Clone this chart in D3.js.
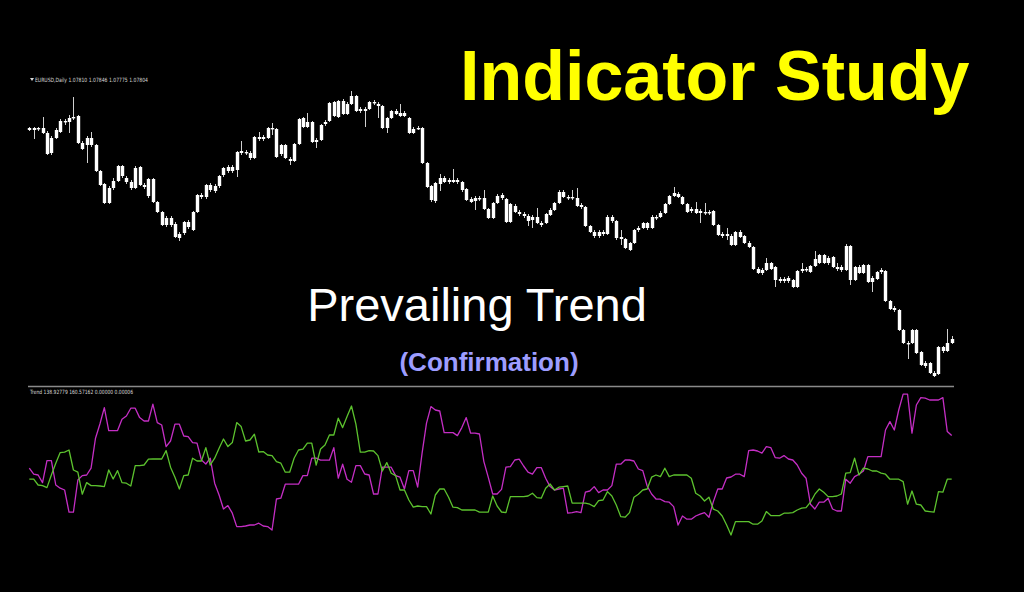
<!DOCTYPE html>
<html>
<head>
<meta charset="utf-8">
<script src="https://cdn.jsdelivr.net/npm/d3@7"></script>
<style>
  html, body { margin: 0; padding: 0; background: #000; }
  svg { display: block; }
</style>
</head>
<body>
<script>
// ---------- DATA (EURUSD Daily, 210 bars) ----------
const open = [
1.1203,1.1207,1.1205,1.1207,1.1197,1.1157,1.1187,1.1199,1.1221,1.1219,
1.1227,1.1231,1.1177,1.1173,1.1187,1.1173,1.1121,1.1095,1.1057,1.1087,
1.1101,1.1131,1.1107,1.1099,1.1087,1.1129,1.1093,1.1071,1.1105,1.1059,
1.1039,1.1013,1.1027,1.1015,1.0987,1.0997,1.1019,1.1003,1.1039,1.1073,
1.1069,1.1093,1.1081,1.1091,1.1113,1.1121,1.1129,1.1123,1.1157,1.1159,
1.1157,1.1147,1.1189,1.1185,1.1187,1.1207,1.1205,1.1155,1.1173,1.1145,
1.1141,1.1175,1.1227,1.1209,1.1219,1.1179,1.1183,1.1215,1.1221,1.1259,
1.1229,1.1261,1.1235,1.1255,1.1271,1.1241,1.1245,1.1245,1.1259,1.1255,
1.1251,1.1207,1.1227,1.1241,1.1237,1.1231,1.1227,1.1197,1.1205,1.1207,
1.1137,1.1091,1.1061,1.1095,1.1107,1.1099,1.1103,1.1099,1.1099,1.1085,
1.1065,1.1061,1.1067,1.1067,1.1045,1.1027,1.1057,1.1073,1.1065,1.1019,
1.1051,1.1039,1.1035,1.1031,1.1023,1.1029,1.1017,1.1017,1.1033,1.1043,
1.1057,1.1079,1.1069,1.1067,1.1067,1.1053,1.1049,1.1011,1.0999,1.0991,
1.0999,1.0995,1.1029,1.1021,1.0989,1.0985,1.0963,1.0977,1.1003,1.1007,
1.1017,1.1007,1.1029,1.1029,1.1037,1.1055,1.1071,1.1075,1.1069,1.1055,
1.1041,1.1045,1.1037,1.1039,1.1037,1.1041,1.1013,1.0995,1.0991,1.0991,
1.0973,1.0999,1.0991,1.0977,1.0969,1.0925,1.0917,1.0923,1.0937,1.0929,
1.0905,1.0901,1.0907,1.0903,1.0889,1.0921,1.0925,1.0919,1.0931,1.0937,
1.0953,1.0937,1.0949,1.0929,1.0923,1.0923,1.0971,1.0903,1.0929,1.0917,
1.0933,1.0899,1.0905,1.0919,1.0921,1.0861,1.0847,1.0843,1.0803,1.0777,
1.0777,1.0803,1.0759,1.0731,1.0737,1.0717,1.0715,1.0769,1.0761,1.0777];
const high = [
1.1209,1.1209,1.1209,1.1229,1.1201,1.1191,1.1207,1.1225,1.1225,1.1233,
1.1269,1.1233,1.1181,1.1191,1.1199,1.1175,1.1123,1.1097,1.1091,1.1107,
1.1133,1.1133,1.1111,1.1103,1.1131,1.1131,1.1097,1.1107,1.1107,1.1061,
1.1041,1.1031,1.1031,1.1019,1.0999,1.1021,1.1023,1.1041,1.1075,1.1077,
1.1095,1.1097,1.1095,1.1113,1.1129,1.1133,1.1133,1.1161,1.1181,1.1163,
1.1161,1.1191,1.1199,1.1193,1.1209,1.1217,1.1207,1.1175,1.1175,1.1149,
1.1177,1.1227,1.1229,1.1237,1.1221,1.1187,1.1215,1.1223,1.1259,1.1261,
1.1263,1.1265,1.1259,1.1281,1.1273,1.1249,1.1249,1.1261,1.1263,1.1259,
1.1253,1.1229,1.1243,1.1245,1.1255,1.1241,1.1229,1.1209,1.1211,1.1209,
1.1139,1.1093,1.1099,1.1115,1.1111,1.1107,1.1125,1.1107,1.1101,1.1087,
1.1069,1.1071,1.1071,1.1083,1.1047,1.1059,1.1075,1.1077,1.1067,1.1057,
1.1055,1.1043,1.1039,1.1035,1.1033,1.1047,1.1021,1.1037,1.1047,1.1059,
1.1083,1.1083,1.1073,1.1083,1.1087,1.1057,1.1051,1.1013,1.1003,1.1003,
1.1003,1.1033,1.1033,1.1023,1.1003,1.0987,1.0979,1.1005,1.1011,1.1019,
1.1019,1.1033,1.1033,1.1041,1.1057,1.1073,1.1089,1.1079,1.1071,1.1057,
1.1049,1.1059,1.1045,1.1057,1.1043,1.1043,1.1015,1.0999,1.1007,1.0995,
1.1001,1.1003,1.0993,1.0981,1.0971,1.0929,1.0927,1.0947,1.0939,1.0931,
1.0909,1.0909,1.0911,1.0905,1.0923,1.0937,1.0929,1.0933,1.0961,1.0955,
1.0955,1.0951,1.0951,1.0937,1.0933,1.0975,1.0973,1.0931,1.0933,1.0935,
1.0935,1.0911,1.0921,1.0927,1.0923,1.0863,1.0851,1.0845,1.0805,1.0781,
1.0805,1.0805,1.0761,1.0741,1.0739,1.0721,1.0771,1.0771,1.0805,1.0791];
const low = [
1.1201,1.1185,1.1201,1.1195,1.1153,1.1153,1.1185,1.1197,1.1213,1.1197,
1.1223,1.1175,1.1163,1.1137,1.1169,1.1119,1.1091,1.1055,1.1055,1.1083,
1.1099,1.1107,1.1095,1.1083,1.1085,1.1091,1.1085,1.1067,1.1057,1.1037,
1.1011,1.1009,1.1009,1.0987,1.0981,1.0993,1.1005,1.1001,1.1037,1.1065,
1.1065,1.1079,1.1077,1.1087,1.1109,1.1117,1.1117,1.1109,1.1153,1.1153,
1.1143,1.1145,1.1181,1.1181,1.1185,1.1193,1.1147,1.1151,1.1145,1.1133,
1.1139,1.1173,1.1207,1.1207,1.1177,1.1167,1.1181,1.1211,1.1219,1.1229,
1.1227,1.1233,1.1233,1.1253,1.1239,1.1237,1.1209,1.1243,1.1253,1.1227,
1.1205,1.1197,1.1225,1.1233,1.1229,1.1229,1.1195,1.1195,1.1203,1.1135,
1.1087,1.1059,1.1057,1.1081,1.1097,1.1095,1.1097,1.1095,1.1079,1.1061,
1.1057,1.1043,1.1061,1.1043,1.1025,1.1025,1.1055,1.1063,1.1017,1.1017,
1.1037,1.1031,1.1027,1.1011,1.1007,1.1015,1.1009,1.1015,1.1031,1.1041,
1.1055,1.1067,1.1063,1.1063,1.1049,1.1045,1.1009,1.0997,1.0987,1.0987,
1.0991,1.0993,1.1017,1.0983,1.0973,1.0965,1.0961,1.0975,1.0999,1.1005,
1.1003,1.1005,1.1023,1.1027,1.1035,1.1053,1.1069,1.1067,1.1053,1.1037,
1.1037,1.1035,1.1017,1.1033,1.1033,1.1011,1.0991,1.0987,1.0983,1.0971,
1.0971,1.0987,1.0975,1.0967,1.0923,1.0915,1.0913,1.0921,1.0923,1.0889,
1.0897,1.0897,1.0897,1.0887,1.0887,1.0917,1.0919,1.0917,1.0929,1.0935,
1.0935,1.0933,1.0927,1.0921,1.0919,1.0921,1.0893,1.0901,1.0915,1.0915,
1.0897,1.0879,1.0903,1.0915,1.0859,1.0843,1.0839,1.0801,1.0775,1.0745,
1.0775,1.0755,1.0731,1.0727,1.0715,1.0709,1.0713,1.0757,1.0759,1.0775];
const close = [
1.1207,1.1203,1.1207,1.1197,1.1155,1.1187,1.1203,1.1221,1.1219,1.1227,
1.1229,1.1177,1.1165,1.1187,1.1173,1.1121,1.1093,1.1057,1.1087,1.1101,
1.1131,1.1111,1.1099,1.1087,1.1127,1.1093,1.1089,1.1105,1.1059,1.1039,
1.1013,1.1027,1.1013,1.0989,1.0995,1.1019,1.1009,1.1039,1.1073,1.1069,
1.1093,1.1083,1.1091,1.1111,1.1127,1.1129,1.1121,1.1159,1.1161,1.1157,
1.1147,1.1189,1.1185,1.1189,1.1207,1.1205,1.1149,1.1173,1.1147,1.1141,
1.1175,1.1225,1.1209,1.1219,1.1179,1.1183,1.1213,1.1219,1.1257,1.1231,
1.1261,1.1235,1.1255,1.1271,1.1241,1.1245,1.1241,1.1259,1.1257,1.1251,
1.1207,1.1227,1.1241,1.1235,1.1231,1.1237,1.1197,1.1205,1.1207,1.1137,
1.1089,1.1063,1.1097,1.1107,1.1099,1.1103,1.1099,1.1103,1.1083,1.1063,
1.1059,1.1067,1.1065,1.1045,1.1027,1.1057,1.1071,1.1067,1.1019,1.1055,
1.1039,1.1035,1.1031,1.1021,1.1029,1.1017,1.1013,1.1035,1.1043,1.1057,
1.1079,1.1069,1.1067,1.1069,1.1051,1.1049,1.1011,1.0999,1.0991,1.0999,
1.0995,1.1029,1.1021,1.0987,1.0985,1.0967,1.0977,1.1003,1.1007,1.1017,
1.1007,1.1029,1.1027,1.1037,1.1055,1.1071,1.1077,1.1069,1.1055,1.1039,
1.1045,1.1037,1.1041,1.1037,1.1039,1.1013,1.0993,1.0991,1.0995,1.0973,
1.0999,1.0989,1.0977,1.0969,1.0925,1.0917,1.0923,1.0937,1.0925,1.0903,
1.0901,1.0905,1.0901,1.0889,1.0921,1.0925,1.0923,1.0931,1.0945,1.0953,
1.0937,1.0947,1.0929,1.0925,1.0929,1.0971,1.0903,1.0929,1.0917,1.0933,
1.0899,1.0907,1.0919,1.0923,1.0861,1.0845,1.0843,1.0803,1.0777,1.0775,
1.0803,1.0757,1.0733,1.0737,1.0717,1.0711,1.0769,1.0761,1.0777,1.0785];

// Trend indicator: two lines (magenta and green)
const trendMagenta = [
143.9,140.9,140.5,136.7,147.7,147.7,135.5,133.9,133.0,121.9,
121.9,138.0,140.2,140.5,143.9,158.9,166.0,174.2,162.7,162.7,
162.7,168.4,170.0,173.9,173.9,169.2,167.5,167.5,175.9,166.7,
165.5,154.7,157.5,165.9,165.9,160.0,159.7,156.7,156.4,148.0,
146.0,148.9,136.4,130.5,123.5,125.2,121.4,114.7,114.7,115.0,
115.5,115.5,116.4,115.0,114.7,113.0,128.5,128.9,135.9,135.9,
135.9,135.9,140.2,140.2,148.9,148.9,147.9,147.9,147.9,154.2,
138.9,145.9,138.4,136.9,145.2,145.2,141.0,140.5,131.0,131.0,
144.4,144.4,144.4,140.2,139.4,133.5,142.7,142.7,134.4,151.4,
166.4,174.7,173.0,172.5,161.7,161.7,161.7,160.2,164.2,169.2,
161.4,161.4,161.0,147.2,139.3,131.0,131.0,133.3,144.4,144.7,
148.0,148.4,145.0,141.9,140.9,144.2,144.2,138.9,134.7,133.0,
133.5,133.9,121.4,121.7,122.2,121.7,131.9,132.5,134.7,131.7,
133.0,133.0,135.2,145.9,145.9,148.0,148.0,147.5,143.5,142.7,
135.0,131.0,128.5,128.4,127.2,126.9,124.7,115.5,120.0,118.4,
118.4,120.0,120.9,121.7,119.4,127.2,133.5,133.5,139.0,139.5,
140.9,140.9,139.7,152.7,153.0,152.5,151.4,154.7,154.2,149.2,
148.9,150.2,148.5,148.0,145.5,141.4,138.9,125.9,123.5,126.9,
126.9,128.9,123.5,122.5,122.5,138.4,136.4,139.7,140.9,142.5,
149.7,149.7,149.7,149.7,163.0,167.2,163.0,173.0,180.9,180.9,
161.4,175.5,179.2,178.9,178.0,178.0,178.0,179.2,162.2,160.2];
const trendGreen = [
138.4,138.4,135.5,135.2,134.2,140.5,146.4,151.7,151.9,153.0,
143.0,141.9,130.9,136.7,135.2,135.2,135.0,134.7,143.0,138.5,
142.7,136.7,136.4,135.0,145.2,145.2,145.5,148.4,148.5,148.5,
148.5,152.7,144.4,139.4,133.5,140.2,140.5,148.9,147.5,147.5,
154.2,145.5,148.9,153.9,158.5,154.7,156.7,166.7,164.7,157.5,
158.0,160.9,152.0,152.2,150.5,150.2,147.2,146.4,141.9,141.9,
148.9,153.0,153.4,156.4,156.4,145.5,153.5,155.5,160.5,160.5,
168.9,164.2,169.7,175.0,165.9,151.9,151.9,152.7,152.5,150.2,
142.5,146.7,141.4,140.2,133.0,133.0,128.0,124.4,125.0,124.7,
124.7,121.0,130.5,133.5,133.5,129.4,124.4,124.2,123.0,123.0,
123.0,123.0,121.9,121.9,121.9,130.0,125.0,122.0,121.7,129.7,
129.7,129.7,129.7,130.0,131.4,129.2,128.9,133.9,136.0,133.0,
134.4,134.7,135.0,126.4,126.4,126.4,126.4,125.9,124.7,127.7,
128.0,132.2,130.0,125.5,119.7,119.4,121.7,129.4,130.9,133.0,
133.5,139.4,140.5,139.7,143.9,139.7,140.5,140.5,140.5,140.5,
138.9,131.4,130.0,127.5,129.4,123.4,122.5,120.0,115.5,110.5,
117.2,117.2,117.2,117.2,115.9,115.9,117.5,122.2,120.2,120.2,
120.2,121.4,121.4,121.7,123.0,123.9,124.2,126.9,130.9,133.5,
131.9,129.7,129.7,130.0,131.0,141.4,141.7,148.9,140.5,143.9,
143.5,142.5,142.5,141.4,140.9,138.4,138.4,138.4,137.2,125.9,
132.5,125.9,125.5,122.5,122.2,121.9,132.2,131.9,138.4,138.4];

const symbolLabel = "EURUSD,Daily";
const lastQuote = ["1.07810", "1.07846", "1.07775", "1.07804"];
const trendLabel = ["138.92779", "160.57162", "0.00000", "0.00006"];
const titleText = "Indicator Study";
const subtitleText = "Prevailing Trend";
const noteText = "(Confirmation)";

// ---------- DRAWING ----------
const W = 1024, H = 592;
const svg = d3.select("body").append("svg").attr("width", W).attr("height", H)
  .style("background", "#000");

const idx = d3.range(open.length);
const x = d3.scaleLinear().domain([0, open.length - 1]).range([29.3, 951.7]);
const yPrice = d3.scaleLinear().domain([1.0703, 1.1303]).range([380, 80]);
const yTrend = d3.scaleLinear().domain([105.5, 183]).range([545, 390]);

const smallFont = "Tahoma, 'DejaVu Sans', sans-serif";

// main chart header
svg.append("path").attr("d", "M30,78 L34,78 L32,81 Z").attr("fill", "#d8d8d8");
svg.append("text").attr("x", 35).attr("y", 81.5)
  .attr("font-family", smallFont).attr("font-size", 5.8)
  .attr("fill", "#d8d8d8")
  .attr("textLength", 113).attr("lengthAdjust", "spacingAndGlyphs")
  .text(symbolLabel + "  " + lastQuote.join(" "));

// candles
const cg = svg.append("g");
cg.selectAll("line.wick").data(idx).join("line")
  .attr("class", "wick")
  .attr("x1", i => Math.round(x(i)) + 0.5).attr("x2", i => Math.round(x(i)) + 0.5)
  .attr("y1", i => yPrice(high[i])).attr("y2", i => yPrice(low[i]))
  .attr("stroke", "#d0d0d0").attr("stroke-width", 1);
cg.selectAll("rect.body").data(idx).join("rect")
  .attr("class", "body")
  .attr("x", i => Math.round(x(i)) - 1.2)
  .attr("width", 3.4)
  .attr("y", i => yPrice(Math.max(open[i], close[i])))
  .attr("height", i => Math.max(1.4, Math.abs(yPrice(open[i]) - yPrice(close[i]))))
  .attr("fill", "#ffffff");

// titles
svg.append("text").attr("x", 460).attr("y", 100)
  .attr("font-family", "'Liberation Sans', Arial, sans-serif").attr("font-weight", "bold")
  .attr("font-size", 70).attr("fill", "#ffff00").text(titleText);
svg.append("text").attr("x", 477).attr("y", 321).attr("text-anchor", "middle")
  .attr("font-family", "'Liberation Sans', Arial, sans-serif")
  .attr("font-size", 47).attr("fill", "#ffffff").text(subtitleText);
svg.append("text").attr("x", 489).attr("y", 371).attr("text-anchor", "middle")
  .attr("font-family", "'Liberation Sans', Arial, sans-serif").attr("font-weight", "bold")
  .attr("font-size", 26).attr("fill", "#9d9dff").text(noteText);

// separator between windows
svg.append("line").attr("x1", 28).attr("x2", 954).attr("y1", 386.5).attr("y2", 386.5)
  .attr("stroke", "#8a8a8a").attr("stroke-width", 1.3);

// indicator label
svg.append("text").attr("x", 30).attr("y", 393.5)
  .attr("font-family", smallFont).attr("font-size", 5.8)
  .attr("fill", "#d8d8d8")
  .attr("textLength", 103).attr("lengthAdjust", "spacingAndGlyphs")
  .text("Trend " + trendLabel.join(" "));

// indicator lines
const lineGen = arr => d3.line().x((d, i) => x(i)).y(d => yTrend(d))(arr);
svg.append("path").attr("d", lineGen(trendMagenta)).attr("fill", "none")
  .attr("stroke", "#c42ec4").attr("stroke-width", 1.3).attr("stroke-linejoin", "round");
svg.append("path").attr("d", lineGen(trendGreen)).attr("fill", "none")
  .attr("stroke", "#5cc22e").attr("stroke-width", 1.3).attr("stroke-linejoin", "round");
</script>
</body>
</html>
